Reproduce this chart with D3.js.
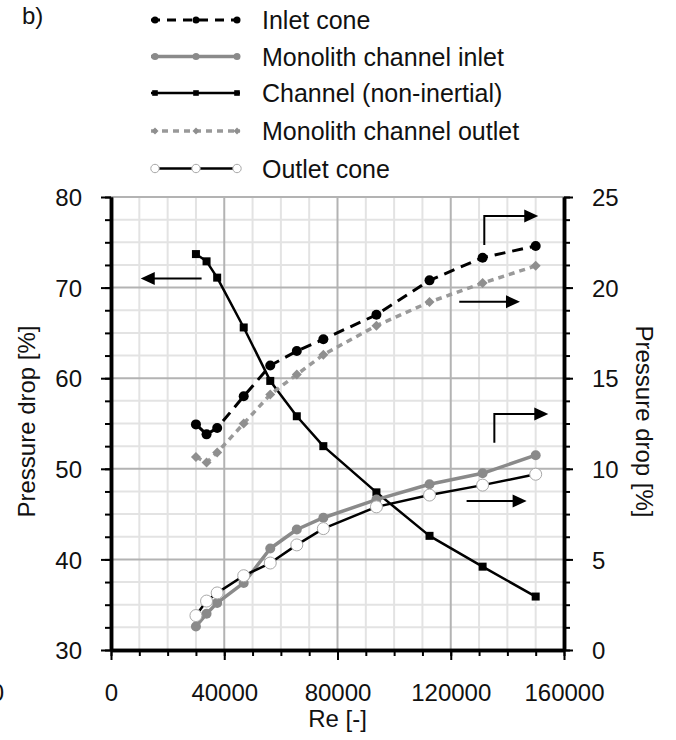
<!DOCTYPE html>
<html>
<head>
<meta charset="utf-8">
<script src="https://cdn.jsdelivr.net/npm/d3@7"></script>
<style>
  body { margin: 0; background: #fff; }
  svg { display: block; font-family: "Liberation Sans", Arial, sans-serif; }
</style>
</head>
<body>
<svg id="chart" width="676" height="740"></svg>
<script>
// ---------- DATA ----------
const re = [30000, 33750, 37500, 46875, 56250, 65625, 75000, 93750, 112500, 131250, 150000];
// left axis
const channel = [73.7, 72.9, 71.1, 65.6, 59.7, 55.8, 52.5, 47.4, 42.6, 39.2, 35.9];
// right axis
const inletCone = [12.45, 11.9, 12.25, 14.0, 15.7, 16.5, 17.15, 18.5, 20.4, 21.65, 22.3];
const monoInlet = [1.3, 2.0, 2.6, 3.7, 5.6, 6.65, 7.3, 8.3, 9.15, 9.75, 10.75];
const monoOutlet = [10.65, 10.35, 10.9, 12.5, 14.1, 15.2, 16.3, 17.9, 19.2, 20.25, 21.2];
const outletCone = [1.9, 2.7, 3.15, 4.1, 4.8, 5.8, 6.7, 7.9, 8.55, 9.1, 9.7];

const xTicks = [0, 40000, 80000, 120000, 160000];
const yLeftTicks = [30, 40, 50, 60, 70, 80];
const yRightTicks = [0, 5, 10, 15, 20, 25];
const legendNames = ["Inlet cone", "Monolith channel inlet", "Channel (non-inertial)", "Monolith channel outlet", "Outlet cone"];

// annotation arrows (data units)
const arrowLeft = {axis: "L", pts: [[32000, 71.0], [10500, 71.0]]};
const arrowsRight = [
  {axis: "R", pts: [[131850, 22.35], [131850, 23.95], [150900, 23.95]]},
  {axis: "R", pts: [[123000, 19.22], [144450, 19.22]]},
  {axis: "R", pts: [[135400, 11.44], [135400, 13.02], [154450, 13.02]]},
  {axis: "R", pts: [[125600, 8.22], [146800, 8.22]]}
];

// ---------- SETUP ----------
const svg = d3.select("#chart");
const x = d3.scaleLinear([0, 160000], [111, 564]);
const yL = d3.scaleLinear([30, 80], [650, 197]);
const yR = d3.scaleLinear([0, 25], [650, 197]);
const FS = 24;

// grid
const grid = svg.append("g");
grid.selectAll("line.vmin").data(d3.range(0, 160001, 10000))
  .join("line").attr("x1", d => x(d)).attr("x2", d => x(d)).attr("y1", yL(30)).attr("y2", yL(80))
  .attr("stroke", d => d % 40000 === 0 ? "#b3b3b3" : "#e3e3e3").attr("stroke-width", 2);
grid.selectAll("line.hmin").data(d3.range(30, 80.01, 2.5))
  .join("line").attr("y1", d => yL(d)).attr("y2", d => yL(d)).attr("x1", x(0)).attr("x2", x(160000))
  .attr("stroke", d => d % 10 === 0 ? "#b3b3b3" : "#e3e3e3").attr("stroke-width", 2);
// reorder: major on top
grid.selectAll("line").filter(function(){ return d3.select(this).attr("stroke") === "#b3b3b3"; }).raise();

// ---------- AXES ----------
function styleAxis(g) {
  g.select(".domain").attr("stroke", "#000").attr("stroke-width", 3.5);
  g.selectAll(".tick line").attr("stroke", "#000").attr("stroke-width", 2);
  g.selectAll("text").attr("font-size", FS).attr("fill", "#111").attr("font-family", "Liberation Sans, Arial, sans-serif");
}
// minor ticks
svg.append("g").attr("transform", `translate(${x(0)},0)`)
  .call(d3.axisLeft(yL).tickValues(d3.range(30, 80.01, 2.5)).tickSize(6).tickFormat("").tickSizeOuter(0))
  .call(styleAxis);
svg.append("g").attr("transform", `translate(${x(160000)},0)`)
  .call(d3.axisRight(yR).tickValues(d3.range(0, 25.01, 1.25)).tickSize(6).tickFormat("").tickSizeOuter(0))
  .call(styleAxis);
svg.append("g").attr("transform", `translate(0,${yL(30)})`)
  .call(d3.axisBottom(x).tickValues(d3.range(0, 160001, 10000)).tickSize(6).tickFormat("").tickSizeOuter(0))
  .call(styleAxis);
// major ticks + labels
const gL = svg.append("g").attr("transform", `translate(${x(0)},0)`)
  .call(d3.axisLeft(yL).tickValues(yLeftTicks).tickSize(10).tickPadding(19).tickSizeOuter(0))
  .call(styleAxis);
const gR = svg.append("g").attr("transform", `translate(${x(160000)},0)`)
  .call(d3.axisRight(yR).tickValues(yRightTicks).tickSize(9).tickPadding(19).tickSizeOuter(0))
  .call(styleAxis);
const gX = svg.append("g").attr("transform", `translate(0,${yL(30)})`)
  .call(d3.axisBottom(x).tickValues(xTicks).tickSize(10).tickFormat(d3.format("d")).tickSizeOuter(0))
  .call(styleAxis);
gX.selectAll("text").attr("dy", null).attr("y", 51);
gL.selectAll("text").attr("dy", "0.36em");
gR.selectAll("text").attr("dy", "0.36em");

// axis titles
svg.append("text").attr("transform", `translate(35,${(yL(30)+yL(80))/2 - 2}) rotate(-90)`)
  .attr("text-anchor", "middle").attr("font-size", FS).attr("fill", "#111").text("Pressure drop [%]");
svg.append("text").attr("transform", `translate(636,${(yL(30)+yL(80))/2 - 2}) rotate(90)`)
  .attr("text-anchor", "middle").attr("font-size", FS).attr("fill", "#111").text("Pressure drop [%]");
svg.append("text").attr("x", (x(0)+x(160000))/2).attr("y", 727)
  .attr("text-anchor", "middle").attr("font-size", FS).attr("fill", "#111").text("Re [-]");
// panel label and clipped neighbour label
svg.append("text").attr("x", 22).attr("y", 24).attr("font-size", FS).attr("fill", "#111").text("b)");
svg.append("text").attr("x", 4).attr("y", 701).attr("text-anchor", "end").attr("font-size", FS).attr("fill", "#111").text("0");

// ---------- SERIES ----------
const styles = [
  {name: legendNames[0], vals: inletCone, y: yR, color: "#000", width: 3, dash: "11,7", marker: "circle", fill: "#000", stroke: "none", r: 5},
  {name: legendNames[1], vals: monoInlet, y: yR, color: "#8a8a8a", width: 3.5, dash: null, marker: "circle", fill: "#8a8a8a", stroke: "none", r: 5},
  {name: legendNames[2], vals: channel, y: yL, color: "#000", width: 2.5, dash: null, marker: "square", fill: "#000", stroke: "none", r: 4},
  {name: legendNames[3], vals: monoOutlet, y: yR, color: "#999", width: 3.5, dash: "6,5", marker: "diamond", fill: "#8f8f8f", stroke: "none", r: 5},
  {name: legendNames[4], vals: outletCone, y: yR, color: "#000", width: 2.5, dash: null, marker: "circle", fill: "#fff", stroke: "#a8a8a8", r: 6}
];
const drawOrder = [2, 0, 1, 3, 4];

function drawMarker(g, s, cx, cy, scale) {
  const r = s.r * scale;
  if (s.marker === "circle") {
    g.append("circle").attr("cx", cx).attr("cy", cy).attr("r", r)
      .attr("fill", s.fill).attr("stroke", s.stroke).attr("stroke-width", 1);
  } else if (s.marker === "square") {
    g.append("rect").attr("x", cx - r).attr("y", cy - r).attr("width", 2*r).attr("height", 2*r).attr("fill", s.fill);
  } else {
    g.append("path").attr("d", `M${cx},${cy-r}L${cx+r},${cy}L${cx},${cy+r}L${cx-r},${cy}Z`).attr("fill", s.fill);
  }
}

const plot = svg.append("g");
drawOrder.forEach(i => {
  const s = styles[i];
  const pts = re.map((d, k) => [x(d), s.y(s.vals[k])]);
  plot.append("path").attr("d", d3.line()(pts)).attr("fill", "none")
    .attr("stroke", s.color).attr("stroke-width", s.width)
    .attr("stroke-dasharray", s.dash).attr("stroke-linejoin", "round");
  const mg = plot.append("g");
  pts.forEach(p => drawMarker(mg, s, p[0], p[1], 1));
});

// ---------- ARROWS ----------
const ag = svg.append("g");
function arrow(a) {
  const ys = a.axis === "L" ? yL : yR;
  const pts = a.pts.map(p => [x(p[0]), ys(p[1])]);
  const n = pts.length;
  const [tx, ty] = pts[n-1], [px, py] = pts[n-2];
  const ang = Math.atan2(ty - py, tx - px);
  const L = 14, W = 6.5;
  const bx = tx - L*Math.cos(ang), by = ty - L*Math.sin(ang);
  const linePts = pts.slice(0, n-1).concat([[bx + 1*Math.cos(ang), by + 1*Math.sin(ang)]]);
  ag.append("path").attr("d", d3.line()(linePts)).attr("fill", "none").attr("stroke", "#000").attr("stroke-width", 2);
  const nx = -Math.sin(ang), ny = Math.cos(ang);
  ag.append("path").attr("d", `M${tx},${ty}L${bx + W*nx},${by + W*ny}L${bx - W*nx},${by - W*ny}Z`).attr("fill", "#000");
}
arrow(arrowLeft);
arrowsRight.forEach(arrow);

// ---------- LEGEND ----------
const lg = svg.append("g");
const rowY = [20, 56.5, 93, 131, 168.5];
const mX = [155, 196, 237];
styles.forEach((s, i) => {
  const yy = rowY[i];
  lg.append("line").attr("x1", 151).attr("x2", 240).attr("y1", yy).attr("y2", yy)
    .attr("stroke", s.color).attr("stroke-width", s.width)
    .attr("stroke-dasharray", s.dash ? (i === 0 ? "9,7" : "6,5") : null);
  const g = lg.append("g");
  mX.forEach(mx => drawMarker(g, s, mx, yy, 0.7));
  lg.append("text").attr("x", 262).attr("y", yy + 9).attr("font-size", 25).attr("fill", "#111").text(s.name);
});
</script>
</body>
</html>
